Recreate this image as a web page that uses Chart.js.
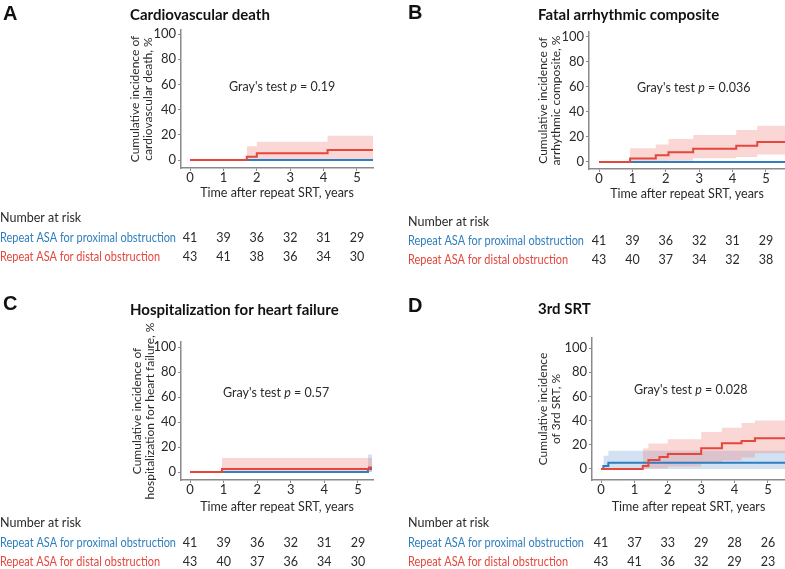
<!DOCTYPE html>
<html>
<head>
<meta charset="utf-8">
<script src="https://cdn.jsdelivr.net/npm/chart.js@4.4.1/dist/chart.umd.min.js"></script>
<style>
body{margin:0;background:#fff;width:785px;height:569px;position:relative;overflow:hidden}
canvas{position:absolute}
</style>
</head>
<body>
<canvas id="cA" width="392" height="280" style="left:0;top:0"></canvas>
<canvas id="cB" width="393" height="280" style="left:392px;top:0"></canvas>
<canvas id="cC" width="392" height="289" style="left:0;top:280px"></canvas>
<canvas id="cD" width="393" height="289" style="left:392px;top:280px"></canvas>
<script>
// ticks and labels
const xTicks = [0, 1, 2, 3, 4, 5]
const yTicks = [0, 20, 40, 60, 80, 100]
const riskLabels = ['Repeat ASA for proximal obstruction', 'Repeat ASA for distal obstruction']

// A - cardiovascular death  ([years, %])
const cvdProximal = [[0,0],[5.48,0]]
const cvdDistal   = [[0,0],[1.7,2.6],[2.0,5.3],[4.12,7.9],[5.48,7.9]]
const cvdDistalHi = [[1.7,11],[2.0,14.5],[4.12,19.3],[5.48,19.3]]
const cvdDistalLo = [[1.7,0],[2.0,0.3],[4.12,0.8],[5.48,0.8]]
const cvdRiskProx = [41,39,36,32,31,29]
const cvdRiskDist = [43,41,38,36,34,30]

// B - fatal arrhythmic composite
const arrProximal = [[0,0],[5.57,0]]
const arrDistal   = [[0,0],[0.93,2.8],[1.7,5.3],[2.08,7.7],[2.82,10.5],[4.11,13],[4.74,16],[5.57,16]]
const arrDistalHi = [[0.93,11],[1.7,14],[2.08,18.3],[2.82,21.5],[4.11,25.5],[4.74,29],[5.57,29]]
const arrDistalLo = [[0.93,0],[1.7,0.5],[2.08,1],[2.82,3],[4.11,4],[4.74,6],[5.57,6]]
const arrRiskProx = [41,39,36,32,31,29]
const arrRiskDist = [43,40,37,34,32,38]

// C - hospitalization for heart failure
const hfProximal   = [[0,0],[5.3,2.5],[5.42,2.5]]
const hfProximalHi = [[5.3,14],[5.42,14]]
const hfProximalLo = [[5.3,0],[5.42,0]]
const hfDistal     = [[0,0],[0.95,2.5],[5.33,3.6],[5.42,3.6]]
const hfDistalHi   = [[0.95,11.3],[5.42,11.3]]
const hfDistalLo   = [[0.95,0],[5.42,0]]
const hfRiskProx = [41,39,36,32,31,29]
const hfRiskDist = [43,40,37,36,34,30]

// D - 3rd SRT
const srtProximal   = [[0,0],[0.07,2.5],[0.22,5.2],[5.51,5.2]]
const srtProximalHi = [[0.07,11],[0.22,15],[5.51,15]]
const srtProximalLo = [[0.07,0],[5.51,0]]
const srtDistal     = [[0,0],[1.25,2.5],[1.42,7.4],[1.75,9.9],[2.0,12.4],[3.0,17.1],[3.62,21.2],[4.21,23.1],[4.61,25.4],[5.51,25.4]]
const srtDistalHi   = [[1.25,17],[1.42,21],[2.0,24.5],[3.0,30.5],[3.62,34],[4.21,38],[4.61,40],[5.51,40]]
const srtDistalLo   = [[1.25,0],[1.42,0.5],[2.0,2],[3.0,5],[3.62,7],[4.21,9.5],[4.61,13],[5.51,13]]
const srtRiskProx = [41,37,33,29,28,26]
const srtRiskDist = [43,41,36,32,29,23]

const FONT = 'Lato, "Noto Sans", sans-serif'
const RED = '#e5473d', BLUE = '#2f7ebf'
const RED_BAND = 'rgba(240,120,112,0.3)', BLUE_BAND = 'rgba(110,160,215,0.3)'
const AXIS = '#8a8a8a', TEXT = '#2a2a2a'

Chart.defaults.font.family = FONT
Chart.defaults.color = TEXT

const pts = a => a.map(([x, y]) => ({x, y}))

function buildDatasets(p) {
    const line = (d, c) => ({data: pts(d), borderColor: c, borderWidth: 2, pointRadius: 0, stepped: true, fill: false})
    const ds = [line(p.distal, RED), line(p.proximal, BLUE)]
    const band = (hi, lo, c) => {
        ds.push({data: pts(hi), borderWidth: 0, pointRadius: 0, stepped: true, backgroundColor: c, fill: ds.length + 1})
        ds.push({data: pts(lo), borderWidth: 0, pointRadius: 0, stepped: true, fill: false})
    }
    if (p.distalHi) band(p.distalHi, p.distalLo, RED_BAND)
    if (p.proximalHi) band(p.proximalHi, p.proximalLo, BLUE_BAND)
    return ds
}

// letter, title, Gray's test note and number-at-risk table
const panelText = {
    id: 'panelText',
    afterDraw(chart, args, o) {
        const ctx = chart.ctx, xs = chart.scales.x
        ctx.save()
        ctx.textBaseline = 'middle'
        ctx.textAlign = 'left'
        ctx.fillStyle = '#111'
        ctx.font = 'bold 20px "Liberation Sans", Arial, sans-serif'
        ctx.fillText(o.letter, o.letterPos[0], o.letterPos[1])
        ctx.font = 'bold 15px ' + FONT
        ctx.fillText(o.title, o.titlePos[0], o.titlePos[1])

        // Gray's test p = ...
        let gx = o.grayPos[0]
        const parts = [["Gray's test ", ''], ['p', 'italic '], [' = ' + o.pValue, '']]
        ctx.fillStyle = TEXT
        parts.forEach(([t, st]) => {
            ctx.font = st + '12.5px ' + FONT
            ctx.fillText(t, gx, o.grayPos[1])
            gx += ctx.measureText(t).width
        })

        ctx.font = '12.5px ' + FONT
        ctx.fillStyle = TEXT
        ctx.fillText('Number at risk', o.riskX, o.riskY[0])
        ctx.fillStyle = BLUE
        ctx.fillText(riskLabels[0], o.riskX, o.riskY[1], 176)
        ctx.fillStyle = RED
        ctx.fillText(riskLabels[1], o.riskX, o.riskY[2], 160)
        ctx.fillStyle = TEXT
        ctx.textAlign = 'center'
        xTicks.forEach((t, i) => {
            const px = xs.getPixelForValue(t)
            ctx.fillText(o.riskProx[i], px, o.riskY[1])
            ctx.fillText(o.riskDist[i], px, o.riskY[2])
        })
        ctx.restore()
    }
}

function makePanel(id, p) {
    new Chart(document.getElementById(id), {
        type: 'line',
        data: {datasets: buildDatasets(p)},
        plugins: [panelText],
        options: {
            responsive: false,
            animation: false,
            layout: {padding: {left: 0, top: p.top, right: p.right, bottom: p.bottom}},
            plugins: {
                legend: {display: false},
                tooltip: {enabled: false},
                panelText: p.text
            },
            scales: {
                x: {
                    type: 'linear', min: p.xMin, max: p.xMax,
                    afterBuildTicks: s => { s.ticks = xTicks.map(v => ({value: v})) },
                    afterFit: s => { s.height = p.xAxisH },
                    border: {display: true, color: AXIS, width: 1.5},
                    grid: {drawOnChartArea: false, drawTicks: true, tickLength: 3, color: AXIS},
                    ticks: {padding: -1, maxRotation: 0, autoSkip: false, font: {size: 13}, color: TEXT},
                    title: {display: true, text: 'Time after repeat SRT, years', font: {size: 12.5}, padding: {top: 0, bottom: 0}, color: TEXT}
                },
                y: {
                    type: 'linear', min: p.yMin, max: p.yMax,
                    afterBuildTicks: s => { s.ticks = yTicks.map(v => ({value: v})) },
                    afterFit: s => { s.width = p.yAxisW },
                    border: {display: true, color: AXIS, width: 1.5},
                    grid: {drawOnChartArea: false, drawTicks: true, tickLength: 3, color: AXIS},
                    ticks: {padding: 2, font: {size: 13}, color: TEXT},
                    title: {display: true, text: p.yTitle, font: {size: 12, lineHeight: '13.5px'}, padding: {top: p.yTitlePad, bottom: 0}, color: TEXT}
                }
            }
        }
    })
}

makePanel('cA', {
    proximal: cvdProximal, distal: cvdDistal, distalHi: cvdDistalHi, distalLo: cvdDistalLo,
    top: 30, right: 19, bottom: 80, xAxisH: 32, yAxisW: 181,
    xMin: -0.27, xMax: 5.48, yMin: -6.35, yMax: 103.2,
    yTitle: ['Cumulative incidence of', 'cardiovascular death, %'], yTitlePad: 128,
    text: {letter: 'A', letterPos: [3, 14], title: 'Cardiovascular death', titlePos: [130, 15],
           grayPos: [229, 87], pValue: '0.19', riskX: 0, riskY: [218, 238, 257],
           riskProx: cvdRiskProx, riskDist: cvdRiskDist}
})

makePanel('cB', {
    proximal: arrProximal, distal: arrDistal, distalHi: arrDistalHi, distalLo: arrDistalLo,
    top: 32, right: 0, bottom: 79, xAxisH: 32, yAxisW: 197,
    xMin: -0.3, xMax: 5.57, yMin: -5.6, yMax: 103.75,
    yTitle: ['Cumulative incidence of', 'arrhythmic composite, %'], yTitlePad: 144,
    text: {letter: 'B', letterPos: [16, 13], title: 'Fatal arrhythmic composite', titlePos: [146, 15],
           grayPos: [245, 88], pValue: '0.036', riskX: 16, riskY: [222, 241, 260],
           riskProx: arrRiskProx, riskDist: arrRiskDist}
})

makePanel('cC', {
    proximal: hfProximal, distal: hfDistal, distalHi: hfDistalHi, distalLo: hfDistalLo,
    proximalHi: hfProximalHi, proximalLo: hfProximalLo,
    top: 62, right: 19, bottom: 55, xAxisH: 34, yAxisW: 181,
    xMin: -0.27, xMax: 5.45, yMin: -6.4, yMax: 104,
    yTitle: ['Cumulative incidence of', 'hospitalization for heart failure, %'], yTitlePad: 130,
    text: {letter: 'C', letterPos: [3, 24.5], title: 'Hospitalization for heart failure', titlePos: [130, 30],
           grayPos: [223, 113], pValue: '0.57', riskX: 0, riskY: [243, 263, 282],
           riskProx: hfRiskProx, riskDist: hfRiskDist}
})

makePanel('cD', {
    proximal: srtProximal, distal: srtDistal, distalHi: srtDistalHi, distalLo: srtDistalLo,
    proximalHi: srtProximalHi, proximalLo: srtProximalLo,
    top: 58, right: 0, bottom: 55, xAxisH: 34, yAxisW: 200,
    xMin: -0.27, xMax: 5.51, yMin: -9.1, yMax: 108.3,
    yTitle: ['Cumulative incidence', 'of 3rd SRT, %'], yTitlePad: 144,
    text: {letter: 'D', letterPos: [16, 26.5], title: '3rd SRT', titlePos: [146, 29],
           grayPos: [242, 110], pValue: '0.028', riskX: 16, riskY: [243, 263, 282],
           riskProx: srtRiskProx, riskDist: srtRiskDist}
})
</script>
</body>
</html>
